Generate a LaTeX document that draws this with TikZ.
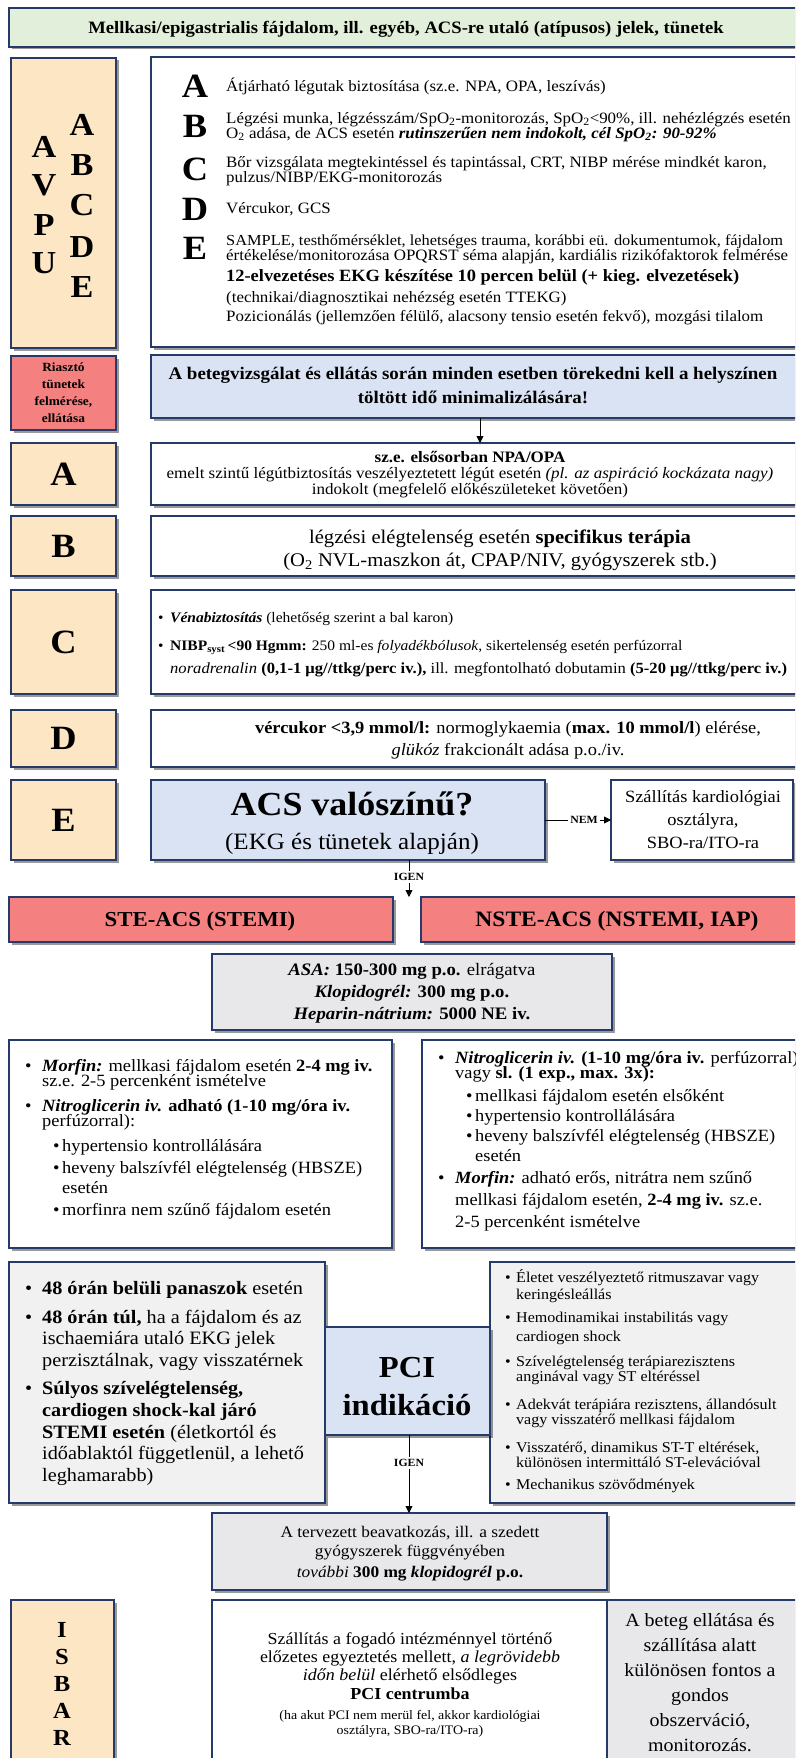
\documentclass[tikz,border=0pt]{standalone}
\usepackage{fontspec}
\setmainfont{Liberation Serif}[FakeStretch=1.07]
\usetikzlibrary{shadows,arrows.meta,backgrounds}
\definecolor{bordc}{RGB}{38,58,105}
\definecolor{greenc}{RGB}{226,239,218}
\definecolor{tanc}{RGB}{252,230,196}
\definecolor{bluec}{RGB}{218,227,243}
\definecolor{redc}{RGB}{244,128,128}
\definecolor{grayc}{RGB}{232,232,234}
\definecolor{grayl}{RGB}{241,241,241}
\newcommand\Ln[6][]{\pgfmathsetmacro\lny{#4+0.33*#5}\node[anchor=base west,inner sep=0pt,font=\fontsize{#5}{#5}\selectfont,#1] (#2) at (#3,\lny) {#6};}
\newcommand\Bx[6]{\node[boxs,#1,minimum width=#5pt,minimum height=#6pt] (#2) at (#3,#4) {};}
\newcommand\mybul{\makebox[17pt][l]{\textbullet}}
\newcommand\mysub{\makebox[9pt][l]{\textbullet}}
\newcommand\myrb{\makebox[11pt][l]{\textbullet}}
\begin{document}
\begin{tikzpicture}[x=1pt,y=-1pt,
  boxs/.style={draw=bordc,line width=1.1pt,anchor=north west,inner sep=0pt,outer sep=0pt,
     drop shadow={shadow xshift=2.5pt,shadow yshift=-2.5pt,opacity=0.4,fill=black}},
  arrw/.style={-{Triangle[length=7pt,width=7pt]},line width=0.8pt},
  cline/.style={line width=0.8pt},
  dashln/.style={line width=2.8pt,dash pattern=on 16pt off 8pt},
  lbl/.style={font=\bfseries\fontsize{11}{11}\selectfont,inner sep=2pt,fill=white}]
\useasboundingbox (0,0) rectangle (795,1758);
\fill[white] (0,0) rectangle (795,1758);
\clip (0,0) rectangle (795,1758);
\coordinate (cx) at (409,0);
\coordinate (ax) at (480,0);
% title
\Bx{fill=greenc}{title}{9}{8}{800}{39}
\Ln[anchor=base]{tt}{406}{28}{17.4}{\textbf{Mellkasi/epigastrialis fájdalom, ill. egyéb, ACS-re utaló (atípusos) jelek, tünetek}}
% AVPU / ABCDE
\Bx{fill=tanc}{avpu}{11}{58}{105}{290}
\Ln[anchor=base]{c2a}{82}{125}{32}{\textbf{A}}
\Ln[anchor=base]{c2b}{82}{165}{32}{\textbf{B}}
\Ln[anchor=base]{c2c}{82}{205}{32}{\textbf{C}}
\Ln[anchor=base]{c2d}{82}{247}{32}{\textbf{D}}
\Ln[anchor=base]{c2e}{82}{287}{32}{\textbf{E}}
\Ln[anchor=base]{c1a}{44}{147}{32}{\textbf{A}}
\Ln[anchor=base]{c1v}{44}{185}{32}{\textbf{V}}
\Ln[anchor=base]{c1p}{44}{225}{32}{\textbf{P}}
\Ln[anchor=base]{c1u}{44}{263}{32}{\textbf{U}}
\Bx{fill=white}{abcde}{151}{57}{660}{290}
\Ln[anchor=base]{ba}{195}{86}{34}{\textbf{A}}
\Ln[anchor=base]{bb}{195}{126}{34}{\textbf{B}}
\Ln[anchor=base]{bc}{195}{169}{34}{\textbf{C}}
\Ln[anchor=base]{bd}{195}{209}{34}{\textbf{D}}
\Ln[anchor=base]{be}{195}{248}{34}{\textbf{E}}
\Ln{a1}{226}{86}{15.8}{Átjárható légutak biztosítása (sz.e. NPA, OPA, leszívás)}
\Ln{b1}{226}{118}{15.8}{Légzési munka, légzésszám/SpO\textsubscript{2}-monitorozás, SpO\textsubscript{2}<90\%, ill. nehézlégzés esetén}
\Ln{b2}{226}{133}{15.8}{O\textsubscript{2} adása, de ACS esetén \textbf{\textit{rutinszerűen nem indokolt, cél SpO\textsubscript{2}: 90-92\%}}}
\Ln{c1}{226}{162}{15.8}{Bőr vizsgálata megtekintéssel és tapintással, CRT, NIBP mérése mindkét karon,}
\Ln{c2}{226}{177}{15.8}{pulzus/NIBP/EKG-monitorozás}
\Ln{d1}{226}{208}{15.8}{Vércukor, GCS}
\Ln{e1}{226}{240}{15.3}{SAMPLE, testhőmérséklet, lehetséges trauma, korábbi eü. dokumentumok, fájdalom}
\Ln{e2}{226}{255}{15.8}{értékelése/monitorozása OPQRST séma alapján, kardiális rizikófaktorok felmérése}
\Ln{e3}{226}{276}{17.2}{\textbf{12-elvezetéses EKG készítése 10 percen belül (+ kieg. elvezetések)}}
\Ln{e4}{226}{297}{15.8}{(technikai/diagnosztikai nehézség esetén TTEKG)}
\Ln{e5}{226}{316}{15.8}{Pozicionálás (jellemzően félülő, alacsony tensio esetén fekvő), mozgási tilalom}
% Riaszto
\Bx{fill=redc}{rias}{11}{356}{105}{74}
\Ln[anchor=base]{r1}{63.5}{367}{12.5}{\textbf{Riasztó}}
\Ln[anchor=base]{r2}{63.5}{384}{12.5}{\textbf{tünetek}}
\Ln[anchor=base]{r3}{63.5}{401}{12.5}{\textbf{felmérése,}}
\Ln[anchor=base]{r4}{63.5}{418}{12.5}{\textbf{ellátása}}
\Bx{fill=bluec}{warn}{151}{355}{660}{63}
\Ln[anchor=base]{w1}{473}{374}{17.7}{\textbf{A betegvizsgálat és ellátás során minden esetben törekedni kell a helyszínen}}
\Ln[anchor=base]{w2}{473}{398}{17.7}{\textbf{töltött idő minimalizálására!}}
% A row
\Bx{fill=tanc}{lA}{11}{443}{105}{62}
\Ln[anchor=base]{lAt}{63.5}{474}{34}{\textbf{A}}
\Bx{fill=white}{rA}{151}{443}{660}{62}
\Ln[anchor=base]{ra1}{470}{457}{15.9}{\textbf{sz.e. elsősorban NPA/OPA}}
\Ln[anchor=base]{ra2}{470}{473}{15.9}{emelt szintű légútbiztosítás veszélyeztetett légút esetén \textit{(pl. az aspiráció kockázata nagy)}}
\Ln[anchor=base]{ra3}{470}{489}{15.9}{indokolt (megfelelő előkészületeket követően)}
% B row
\Bx{fill=tanc}{lB}{11}{516}{105}{60}
\Ln[anchor=base]{lBt}{63.5}{546}{34}{\textbf{B}}
\Bx{fill=white}{rB}{151}{516}{660}{60}
\Ln[anchor=base]{rb1}{500}{537}{19.3}{légzési elégtelenség esetén \textbf{specifikus terápia}}
\Ln[anchor=base]{rb2}{500}{560}{19.3}{(O\textsubscript{2} NVL-maszkon át, CPAP/NIV, gyógyszerek stb.)}
% C row
\Bx{fill=tanc}{lC}{11}{590}{105}{104}
\Ln[anchor=base]{lCt}{63.5}{642}{34}{\textbf{C}}
\Bx{fill=white}{rC}{151}{590}{660}{104}
\Ln{rc1}{158}{618}{14.5}{\makebox[12pt][l]{\textbullet}\textbf{\textit{Vénabiztosítás}} (lehetőség szerint a bal karon)}
\Ln{rc2}{158}{646}{14.5}{\makebox[12pt][l]{\textbullet}\textbf{NIBP\textsubscript{syst}\,<90 Hgmm:} 250 ml-es \textit{folyadékbólusok}, sikertelenség esetén perfúzorral}
\Ln{rc3}{170}{668}{15.5}{\textit{noradrenalin} \textbf{(0,1-1 μg//ttkg/perc iv.),} ill. megfontolható dobutamin \textbf{(5-20 μg//ttkg/perc iv.)}}
% D row
\Bx{fill=tanc}{lD}{11}{710}{105}{57}
\Ln[anchor=base]{lDt}{63.5}{738}{34}{\textbf{D}}
\Bx{fill=white}{rD}{151}{710}{660}{57}
\Ln[anchor=base]{rd1}{508}{728}{17.2}{\textbf{vércukor <3,9 mmol/l:} normoglykaemia (\textbf{max. 10 mmol/l}) elérése,}
\Ln[anchor=base]{rd2}{508}{750}{17.2}{\textit{glükóz} frakcionált adása p.o./iv.}
% E row
\Bx{fill=tanc}{lE}{11}{780}{105}{80}
\Ln[anchor=base]{lEt}{63.5}{820}{34}{\textbf{E}}
\Bx{fill=bluec}{acs}{151}{780}{394}{80}
\Ln[anchor=base]{acs1}{352}{804}{33.6}{\textbf{ACS valószínű?}}
\Ln[anchor=base]{acs2}{352}{842}{23.4}{(EKG és tünetek alapján)}
\Bx{fill=white}{szall}{611}{780}{182}{80}
\Ln[anchor=base]{sz1}{703}{797}{17.2}{Szállítás kardiológiai}
\Ln[anchor=base]{sz2}{703}{820}{17.2}{osztályra,}
\Ln[anchor=base]{sz3}{703}{843}{17.2}{SBO-ra/ITO-ra}
\node[lbl] (nem) at (584,820) {NEM};
\draw[cline] (acs.east) -- (nem.west);
\draw[arrw] (nem.east) -- (szall.west);
\node[lbl] (igen1) at (409,877) {IGEN};
\draw[cline] (acs.south -| cx) -- (igen1.north);
% STE / NSTE
\Bx{fill=redc}{ste}{9}{897}{384}{45}
\Bx{fill=redc}{nste}{421}{897}{390}{45}
\Ln[anchor=base]{stet}{200}{919}{21.3}{\textbf{STE-ACS (STEMI)}}
\Ln[anchor=base]{nstet}{617}{919}{22}{\textbf{NSTE-ACS (NSTEMI, IAP)}}
\draw[arrw] (igen1.south) -- (ste.north -| cx);
% ASA
\Bx{fill=grayc}{asa}{212}{954}{400}{76}
\Ln[anchor=base]{as1}{412}{970}{17.5}{\textbf{\textit{ASA:} 150-300 mg p.o.} elrágatva}
\Ln[anchor=base]{as2}{412}{992}{17.5}{\textbf{\textit{Klopidogrél:} 300 mg p.o.}}
\Ln[anchor=base]{as3}{412}{1014}{17.5}{\textbf{\textit{Heparin-nátrium:} 5000 NE iv.}}
% Morfin / Nitro
\Bx{fill=white}{morf}{9}{1040}{383}{208}
\Ln{m1}{25}{1066}{17.2}{\mybul\textbf{\textit{Morfin:}} mellkasi fájdalom esetén \textbf{2-4 mg iv.}}
\Ln{m2}{42}{1081}{17.2}{sz.e. 2-5 percenként ismételve}
\Ln{m3}{25}{1106}{17.2}{\mybul\textbf{\textit{Nitroglicerin iv.} adható (1-10 mg/óra iv.}}
\Ln{m4}{42}{1121}{17.2}{perfúzorral):}
\Ln{m5}{53}{1146}{17.2}{\mysub hypertensio kontrollálására}
\Ln{m6}{53}{1168}{17.2}{\mysub heveny balszívfél elégtelenség (HBSZE)}
\Ln{m7}{62}{1188}{17.2}{esetén}
\Ln{m8}{53}{1210}{17.2}{\mysub morfinra nem szűnő fájdalom esetén}
\Bx{fill=white}{nitro}{422}{1040}{390}{208}
\Ln{n1}{438}{1058}{17.2}{\mybul\textbf{\textit{Nitroglicerin iv.} (1-10 mg/óra iv.} perfúzorral)}
\Ln{n2}{455}{1073}{17.2}{vagy \textbf{sl. (1 exp., max. 3x):}}
\Ln{n3}{466}{1096}{17.2}{\mysub mellkasi fájdalom esetén elsőként}
\Ln{n4}{466}{1116}{17.2}{\mysub hypertensio kontrollálására}
\Ln{n5}{466}{1136}{17.2}{\mysub heveny balszívfél elégtelenség (HBSZE)}
\Ln{n6}{475}{1156}{17.2}{esetén}
\Ln{n7}{438}{1178}{17.2}{\mybul\textbf{\textit{Morfin:}} adható erős, nitrátra nem szűnő}
\Ln{n8}{455}{1200}{17.2}{mellkasi fájdalom esetén, \textbf{2-4 mg iv.} sz.e.}
\Ln{n9}{455}{1222}{17.2}{2-5 percenként ismételve}
% PCI
\Bx{fill=grayl}{pcil}{9}{1262}{316}{241}
\Ln{p1}{25}{1288}{18.9}{\mybul\textbf{48 órán belüli panaszok} esetén}
\Ln{p2}{25}{1317}{18.9}{\mybul\textbf{48 órán túl,} ha a fájdalom és az}
\Ln{p3}{42}{1338}{18.9}{ischaemiára utaló EKG jelek}
\Ln{p4}{42}{1360}{18.9}{perzisztálnak, vagy visszatérnek}
\Ln{p5}{25}{1388}{18.9}{\mybul\textbf{Súlyos szívelégtelenség,}}
\Ln{p6}{42}{1410}{18.9}{\textbf{cardiogen shock-kal járó}}
\Ln{p7}{42}{1432}{18.9}{\textbf{STEMI esetén} (életkortól és}
\Ln{p8}{42}{1453}{18.9}{időablaktól függetlenül, a lehető}
\Ln{p9}{42}{1475}{18.9}{leghamarabb)}
\Bx{fill=grayl}{pcir}{490}{1262}{320}{241}
\Ln{q1}{505}{1278}{15}{\myrb Életet veszélyeztető ritmuszavar vagy}
\Ln{q2}{516}{1295}{15}{keringésleállás}
\Ln{q3}{505}{1318}{15}{\myrb Hemodinamikai instabilitás vagy}
\Ln{q4}{516}{1337}{15}{cardiogen shock}
\Ln{q5}{505}{1362}{15}{\myrb Szívelégtelenség terápiarezisztens}
\Ln{q6}{516}{1377}{15}{anginával vagy ST eltéréssel}
\Ln{q7}{505}{1405}{15}{\myrb Adekvát terápiára rezisztens, állandósult}
\Ln{q8}{516}{1420}{15}{vagy visszatérő mellkasi fájdalom}
\Ln{q9}{505}{1448}{15}{\myrb Visszatérő, dinamikus ST-T eltérések,}
\Ln{q10}{516}{1463}{15}{különösen intermittáló ST-elevációval}
\Ln{q11}{505}{1485}{15}{\myrb Mechanikus szövődmények}
\Bx{fill=bluec}{pci}{325}{1327}{165}{108}
\Ln[anchor=base]{pci1}{407}{1367}{30.5}{\textbf{PCI}}
\Ln[anchor=base]{pci2}{407}{1405}{30.5}{\textbf{indikáció}}
\node[lbl] (igen2) at (409,1463) {IGEN};
\draw[cline] (pci.south -| cx) -- (igen2.north);
% tervezett
\Bx{fill=grayc}{terv}{212}{1513}{395}{77}
\Ln[anchor=base]{t1}{410}{1532}{16.2}{A tervezett beavatkozás, ill. a szedett}
\Ln[anchor=base]{t2}{410}{1551}{16.2}{gyógyszerek függvényében}
\Ln[anchor=base]{t3}{410}{1572}{16.2}{\textit{további} \textbf{300 mg \textit{klopidogrél} p.o.}}
\draw[arrw] (igen2.south) -- (terv.north -| cx);
% bottom row
\Bx{fill=tanc}{isbar}{11}{1600}{103}{170}
\Ln[anchor=base]{i1}{62}{1630}{23}{\textbf{I}}
\Ln[anchor=base]{i2}{62}{1657}{23}{\textbf{S}}
\Ln[anchor=base]{i3}{62}{1684}{23}{\textbf{B}}
\Ln[anchor=base]{i4}{62}{1711}{23}{\textbf{A}}
\Ln[anchor=base]{i5}{62}{1738}{23}{\textbf{R}}
\Bx{fill=white}{szal2}{212}{1600}{395}{170}
\Ln[anchor=base]{s1}{410}{1639}{16.8}{Szállítás a fogadó intézménnyel történő}
\Ln[anchor=base]{s2}{410}{1657}{16.8}{előzetes egyeztetés mellett, \textit{a legrövidebb}}
\Ln[anchor=base]{s3}{410}{1675}{16.8}{\textit{időn belül} elérhető elsődleges}
\Ln[anchor=base]{s4}{410}{1694}{16.8}{\textbf{PCI centrumba}}
\Ln[anchor=base]{s5}{410}{1715}{13}{(ha akut PCI nem merül fel, akkor kardiológiai}
\Ln[anchor=base]{s6}{410}{1730}{13}{osztályra, SBO-ra/ITO-ra)}
\Bx{fill=grayc}{gray2}{607}{1600}{200}{170}
\Ln[anchor=base]{g1}{700}{1620}{18.7}{A beteg ellátása és}
\Ln[anchor=base]{g2}{700}{1645}{18.7}{szállítása alatt}
\Ln[anchor=base]{g3}{700}{1670}{18.7}{különösen fontos a}
\Ln[anchor=base]{g4}{700}{1695}{18.7}{gondos}
\Ln[anchor=base]{g5}{700}{1720}{18.7}{obszerváció,}
\Ln[anchor=base]{g6}{700}{1745}{18.7}{monitorozás.}
% connectors
\draw[arrw] (warn.south -| ax) -- (rA.north -| ax);
\begin{scope}[on background layer]
\draw[dashln] (ste.north -| cx) -- (pci.north -| cx);
\end{scope}
\end{tikzpicture}
\end{document}
